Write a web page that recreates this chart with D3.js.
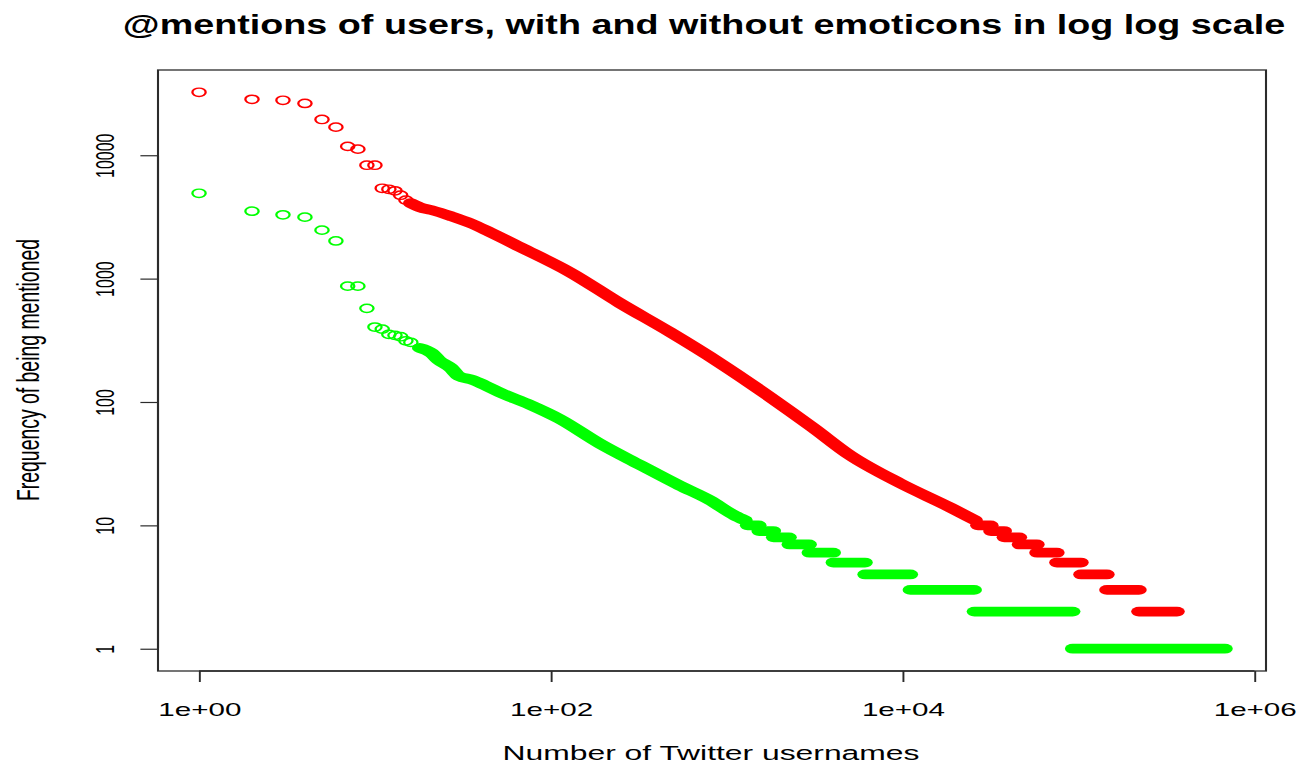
<!DOCTYPE html>
<html>
<head>
<meta charset="utf-8">
<script src="https://cdn.jsdelivr.net/npm/d3@7"></script>
<style>
  html, body { margin: 0; padding: 0; background: #fff; overflow: hidden; }
  text { font-family: "Liberation Sans", Arial, Helvetica, sans-serif; fill: #000; }
</style>
</head>
<body>
<svg id="chart" width="1315" height="767"></svg>
<script>
// Rank / frequency of @mentioned usernames, log-log.
// Red: all mentions, green: mentions in tweets with emoticons.

// Top-ranked users, drawn as individual open circles (rank = 1, 2, 3, ...)
const redHeadFreq   = [32400, 28400, 27900, 26300, 19500, 16900, 11800, 11200, 8300, 8300, 5400, 5300, 5150, 4740, 4330];
const greenHeadFreq = [4920, 3520, 3290, 3150, 2470, 2020, 869, 869, 574, 405, 390, 353, 347, 338, 313, 304];

// Dense middle of each curve: (rank, frequency) along the run of overlapping circles
const redBodyRank   = [16, 18, 21, 27, 35, 45, 67, 128, 247, 475, 914, 1760, 3090, 5020, 9650, 18600, 25800];
const redBodyFreq   = [4090, 3790, 3590, 3210, 2810, 2380, 1800, 1130, 633, 369, 207, 110, 62, 37, 22, 14, 11];
const greenBodyRank = [18, 21, 23, 27, 30, 36, 42, 51, 76, 112, 190, 320, 541, 801, 1112, 1268];
const greenBodyFreq = [274, 249, 219, 189, 162, 151, 137, 120, 95, 73, 46, 31, 21, 16, 12, 11];

// Low-frequency tail: every user with the same count forms a flat run of ranks
const redTailFreq    = [10, 9, 8, 7, 6, 5, 4, 3, 2];
const redTailFirst   = [26800, 31800, 37900, 46200, 58100, 75400, 103300, 145100, 220600];
const redTailLast    = [31700, 37800, 46100, 58000, 75300, 103200, 145000, 220500, 363000];
const greenTailFreq  = [10, 9, 8, 7, 6, 5, 4, 3, 2, 1];
const greenTailFirst = [1315, 1530, 1850, 2270, 2950, 4040, 6120, 11070, 25600, 92700];
const greenTailLast  = [1520, 1840, 2260, 2940, 4030, 6110, 11060, 25500, 92600, 680000];

// Axis ticks and labels
const xTickValues = [1, 1e2, 1e4, 1e6];
const xTickLabels = ["1e+00", "1e+02", "1e+04", "1e+06"];
const yTickValues = [1, 10, 100, 1000, 10000];
const yTickLabels = ["1", "10", "100", "1000", "10000"];

const titleText = "@mentions of users, with and without emoticons in log log scale";
const xTitle = "Number of Twitter usernames";
const yTitle = "Frequency of being mentioned";

// ---------------------------------------------------------------------------
// The device is wider than tall: everything is laid out in a frame that is
// stretched horizontally by SX, so circles become ellipses and text widens.
const SX = 1.6;
const plot = { left: 158 / SX, right: 1266 / SX, top: 70, bottom: 671 };

const series = [
  { color: "#ff0000", head: redHeadFreq, bodyRank: redBodyRank, bodyFreq: redBodyFreq,
    tailFreq: redTailFreq, tailFirst: redTailFirst, tailLast: redTailLast },
  { color: "#00ff00", head: greenHeadFreq, bodyRank: greenBodyRank, bodyFreq: greenBodyFreq,
    tailFreq: greenTailFreq, tailFirst: greenTailFirst, tailLast: greenTailLast }
];

// axis limits: data range plus 4% on each side (in log space)
function logLimits(lo, hi) {
  const a = Math.log10(lo), b = Math.log10(hi), pad = (b - a) * 0.04;
  return [Math.pow(10, a - pad), Math.pow(10, b + pad)];
}
const xMax = d3.max(series, s => d3.max(s.tailLast));
const yMin = d3.min(series, s => d3.min(s.tailFreq));
const yMax = d3.max(series, s => d3.max(s.head));

const x = d3.scaleLog().domain(logLimits(1, xMax)).range([plot.left, plot.right]);
const y = d3.scaleLog().domain(logLimits(yMin, yMax)).range([plot.bottom, plot.top]);

const svg = d3.select("#chart");
const root = svg.append("g").attr("transform", `scale(${SX},1)`);

const R = 4.15;          // circle radius (vertical, before the stretch)
const SW = 1.45;         // circle line width
const BAND = 2 * R + SW; // thickness of a run of overlapping circles

const marks = root.append("g");

series.forEach(s => {
  const g = marks.append("g");

  // flat runs of equal frequency
  g.selectAll("line.run")
    .data(s.tailFreq.map((f, i) => ({ f, a: s.tailFirst[i], b: s.tailLast[i] })))
    .join("line")
    .attr("class", "run")
    .attr("x1", d => x(d.a)).attr("x2", d => x(d.b))
    .attr("y1", d => y(d.f)).attr("y2", d => y(d.f))
    .attr("stroke", s.color)
    .attr("stroke-width", BAND)
    .attr("stroke-linecap", "round");

  // dense middle section
  const body = s.bodyRank.map((r, i) => [r, s.bodyFreq[i]]);
  g.append("path")
    .attr("d", d3.line().curve(d3.curveMonotoneX).x(d => x(d[0])).y(d => y(d[1]))(body))
    .attr("fill", "none")
    .attr("stroke", s.color)
    .attr("stroke-width", BAND)
    .attr("stroke-linecap", "round")
    .attr("stroke-linejoin", "round");

  // individual top-ranked users
  g.selectAll("circle")
    .data(s.head.map((f, i) => [i + 1, f]))
    .join("circle")
    .attr("cx", d => x(d[0]))
    .attr("cy", d => y(d[1]))
    .attr("r", R)
    .attr("fill", "none")
    .attr("stroke", s.color)
    .attr("stroke-width", SW);
});

// plot frame
root.append("rect")
  .attr("x", plot.left).attr("y", plot.top)
  .attr("width", plot.right - plot.left).attr("height", plot.bottom - plot.top)
  .attr("fill", "none").attr("stroke", "#2b2b2b").attr("stroke-width", 1.3);

// x axis
const xAxis = root.append("g")
  .attr("transform", `translate(0,${plot.bottom})`)
  .call(d3.axisBottom(x)
    .tickValues(xTickValues)
    .tickFormat((d, i) => xTickLabels[i])
    .tickSize(11)
    .tickSizeOuter(0));
xAxis.select(".domain").attr("d", `M${x(xTickValues[0])},0H${x(xTickValues[xTickValues.length - 1])}`)
  .attr("stroke", "#2b2b2b").attr("stroke-width", 1.3);
xAxis.selectAll(".tick line").attr("stroke", "#2b2b2b").attr("stroke-width", 1.2);
xAxis.selectAll(".tick text")
  .attr("y", 45).attr("dy", 0)
  .attr("font-size", 18.5)
  .attr("font-family", "Liberation Sans, Arial, sans-serif")
  .attr("fill", "#000");

// y axis, labels parallel to the axis
const yAxis = root.append("g")
  .attr("transform", `translate(${plot.left},0)`)
  .call(d3.axisLeft(y)
    .tickValues(yTickValues)
    .tickFormat((d, i) => yTickLabels[i])
    .tickSize(11)
    .tickSizeOuter(0));
yAxis.select(".domain").attr("d", `M0,${y(yTickValues[0])}V${y(yTickValues[yTickValues.length - 1])}`)
  .attr("stroke", "#2b2b2b").attr("stroke-width", 1.3);
yAxis.selectAll(".tick line").attr("stroke", "#2b2b2b").attr("stroke-width", 1.2);
yAxis.selectAll(".tick text")
  .attr("x", 0).attr("dy", 0)
  .attr("transform", `translate(-27.5,0) rotate(-90)`)
  .attr("text-anchor", "middle")
  .attr("font-size", 16)
  .attr("font-family", "Liberation Sans, Arial, sans-serif")
  .attr("fill", "#000");

// Text fitted to a given length along its baseline (length in screen pixels
// along the reading direction, before the frame stretch for horizontal text).
function fittedText(parent, str, size, weight, cx, cy, length, rotated) {
  const t = parent.append("text")
    .attr("text-anchor", "middle")
    .attr("font-size", size)
    .attr("font-weight", weight)
    .text(str);
  const natural = t.node().getComputedTextLength();
  const k = length / natural;
  t.attr("transform", rotated
    ? `translate(${cx},${cy}) rotate(-90) scale(${k},1)`
    : `translate(${cx},${cy}) scale(${k},1)`);
  return t;
}

// titles
fittedText(root, titleText, 28, "bold", 704 / SX, 34, 1162 / SX, false);
fittedText(root, xTitle, 20.5, "normal", 711 / SX, 760, 417 / SX, false);
fittedText(root, yTitle, 19.5, "normal", 39 / SX, 370, 262, true);
</script>
</body>
</html>
